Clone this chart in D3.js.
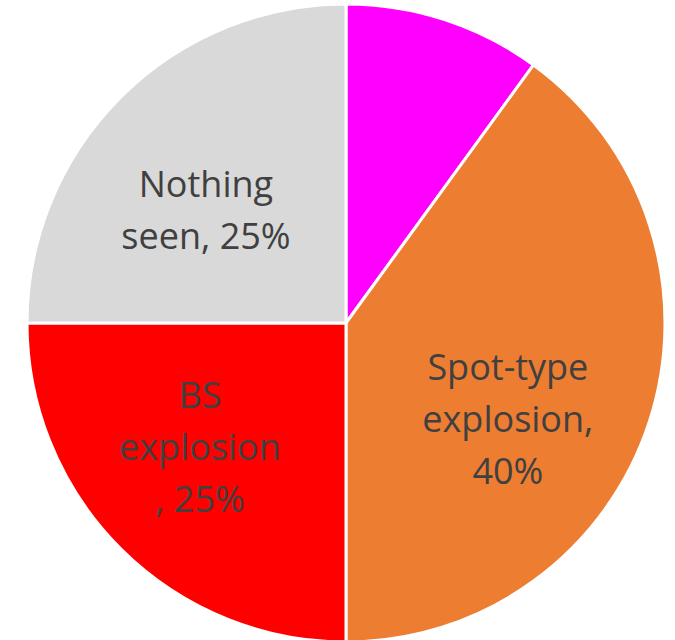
<!DOCTYPE html>
<html>
<head>
<meta charset="utf-8">
<script src="https://cdn.jsdelivr.net/npm/d3@7"></script>
<style>
  html, body { margin: 0; padding: 0; background: #fff; }
  svg { display: block; }
</style>
</head>
<body>
<svg id="chart" width="675" height="640"></svg>
<script>
// Outcome shares, clockwise from 12 o'clock
const categories = ["Other", "Spot-type explosion", "BS explosion", "Nothing seen"];
const shares = [10, 40, 25, 25];
const colors = ["#FF00FF", "#ED7D31", "#FF0000", "#D9D9D9"];
// Wrapped label lines per slice (empty = no label)
const labelLines = [
  [],
  ["Spot-type", "explosion,", "40%"],
  ["BS", "explosion", ", 25%"],
  ["Nothing", "seen, 25%"]
];

const width = 675, height = 640;
const cx = 346, cy = 323, radius = 319;
const lineHeight = 52;
// Small shifts of each label block away from the slice centroid
const labelNudge = [[0, 0], [-5, 55], [-22, 13], [-16, 24]];

const svg = d3.select("#chart");
const g = svg.append("g").attr("transform", `translate(${cx},${cy})`);

const pie = d3.pie().sort(null).value(d => d.value);
const slices = pie(categories.map((c, i) => ({ name: c, value: shares[i], i })));

const arc = d3.arc().innerRadius(0).outerRadius(radius);
const labelArc = d3.arc().innerRadius(radius * 0.55).outerRadius(radius * 0.55);

g.selectAll("path.slice")
  .data(slices)
  .join("path")
  .attr("class", "slice")
  .attr("d", arc)
  .attr("fill", d => colors[d.data.i])
  .attr("stroke", "#fff")
  .attr("stroke-width", 3)
  .attr("stroke-linejoin", "round");

g.selectAll("text.label")
  .data(slices.filter(d => labelLines[d.data.i].length))
  .join("text")
  .attr("class", "label")
  .attr("text-anchor", "middle")
  .attr("font-family", "'Open Sans', sans-serif")
  .attr("font-size", 36)
  .attr("fill", "#404040")
  .each(function (d) {
    const [x0, y0] = labelArc.centroid(d);
    const [nx, ny] = labelNudge[d.data.i];
    const lines = labelLines[d.data.i];
    const x = x0 + nx;
    const yTop = y0 + ny - (lines.length - 1) * lineHeight / 2;
    d3.select(this).selectAll("tspan")
      .data(lines)
      .join("tspan")
      .attr("x", x)
      .attr("y", (l, k) => yTop + k * lineHeight)
      .text(l => l);
  });
</script>
</body>
</html>
